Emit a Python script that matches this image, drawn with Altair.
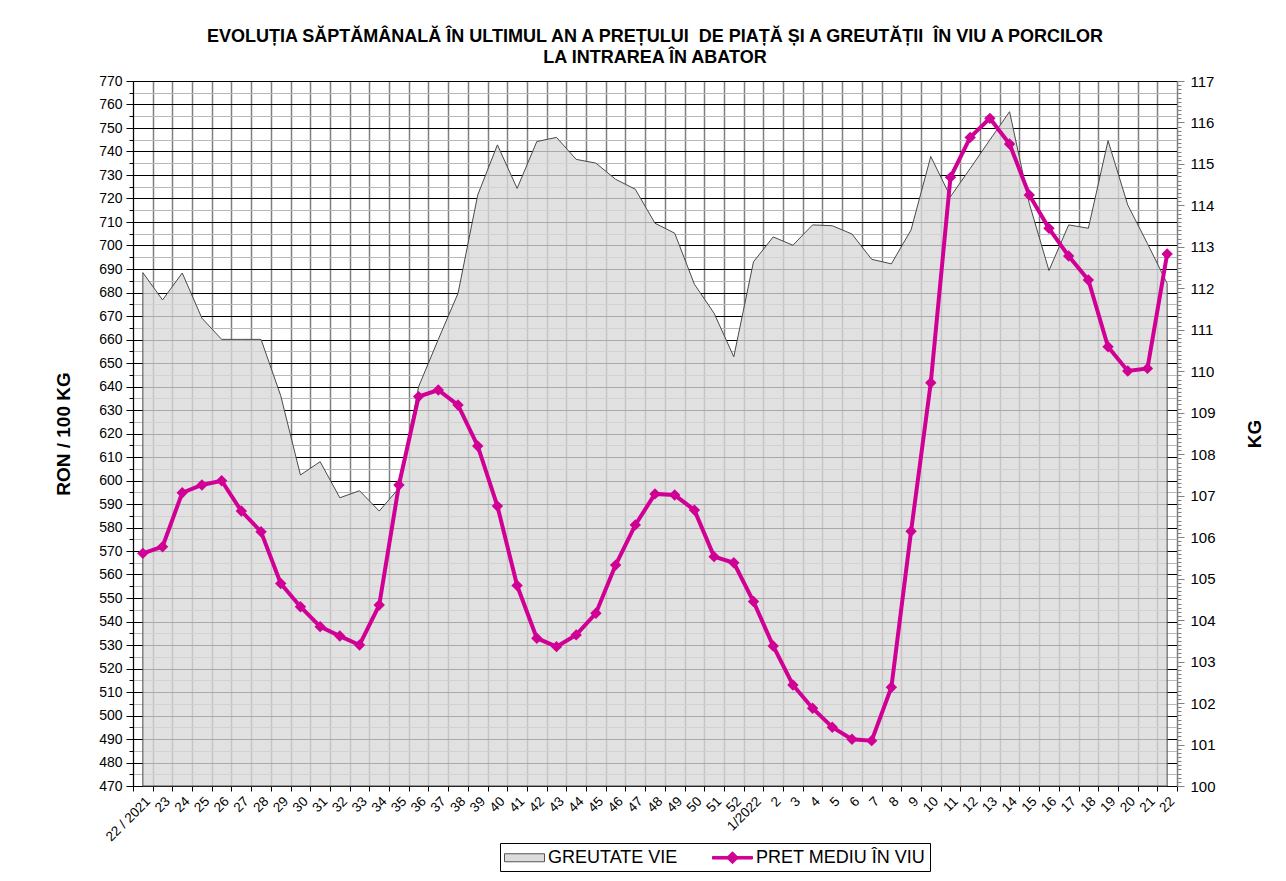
import altair as alt
import pandas as pd

weeks = ["22 / 2021"] + [str(w) for w in range(23, 53)] + ["1/2022"] + [str(w) for w in range(2, 23)]

price = [569.0, 571.8, 594.8, 598.1, 599.9, 587.0, 578.2, 556.2, 546.3, 537.8,
         533.8, 530.0, 547.0, 598.1, 635.7, 638.5, 632.1, 614.7, 589.1, 555.3,
         532.9, 529.3, 534.3, 543.5, 564.0, 581.1, 594.3, 593.8, 587.4, 567.6,
         565.0, 548.5, 529.6, 513.0, 503.1, 495.0, 489.9, 489.3, 512.0, 578.4,
         641.6, 729.0, 746.0, 754.1, 743.2, 721.5, 707.3, 695.5, 685.3, 656.9,
         646.6, 647.7, 696.4]

weight = [112.38, 111.72, 112.37, 111.28, 110.77, 110.77, 110.77, 109.41, 107.50, 107.82,
          106.95, 107.12, 106.63, 107.18, 109.63, 110.77, 111.88, 114.25, 115.46, 114.41,
          115.54, 115.64, 115.11, 115.02, 114.63, 114.39, 113.57, 113.33, 112.10, 111.40,
          110.35, 112.64, 113.24, 113.04, 113.53, 113.51, 113.31, 112.70, 112.59, 113.41,
          115.18, 114.21, 114.89, 115.58, 116.26, 114.05, 112.43, 113.53, 113.45, 115.56,
          114.01, 113.08, 112.12]

series = ["GREUTATE VIE", "PRET MEDIU ÎN VIU"]
title_lines = ["EVOLUȚIA SĂPTĂMÂNALĂ ÎN ULTIMUL AN A PREȚULUI \u00a0DE PIAȚĂ ȘI A GREUTĂȚII \u00a0ÎN VIU A PORCILOR",
               "LA INTRAREA ÎN ABATOR"]

PINK = "#d10094"
FONT = "Liberation Sans"

df = pd.DataFrame({"week": weeks, "price": price, "kg": weight})
leg_df = pd.DataFrame({"series": series})

left_ticks = list(range(470, 775, 5))
right_ticks = [round(100 + i * 0.1, 1) for i in range(171)]

x_enc = alt.X(
    "week:N", sort=weeks,
    scale=alt.Scale(type="band", paddingInner=0, paddingOuter=0),
    axis=alt.Axis(title=None, labelAngle=-45, labelFont=FONT, labelFontSize=13.5,
                  labelColor="black", tickBand="extent", grid=True,
                  gridColor="#808080", gridWidth=1.5, tickColor="black",
                  tickSize=5, domainColor="black", labelPadding=3),
)

area = alt.Chart(df).mark_area(
    fill="#d9d9d9", fillOpacity=0.78, stroke="#4a4a4a", strokeWidth=1
).encode(
    x=x_enc,
    y=alt.Y("kg:Q", scale=alt.Scale(domain=[100, 117], zero=False, nice=False),
            axis=alt.Axis(orient="right", title="KG", titleAngle=270, titleBaseline="top",
                          titleFont=FONT, titleFontSize=19, titleFontWeight="bold",
                          titleColor="black", titlePadding=30,
                          values=right_ticks, grid=False,
                          labelExpr="abs(datum.value - round(datum.value)) < 0.01 ? format(datum.value, 'd') : ''",
                          labelOverlap=False, labelFont=FONT, labelFontSize=15,
                          labelColor="black", labelPadding=6,
                          tickColor="#808080", domainColor="#808080",
                          tickSize={"condition": {"test": "abs(datum.value - round(datum.value)) < 0.01", "value": 7}, "value": 4})),
    y2=alt.datum(100),
)

line = alt.Chart(df).mark_line(
    color=PINK, strokeWidth=4,
    point=alt.OverlayMarkDef(shape="diamond", filled=True, size=130, color=PINK),
).encode(
    x=x_enc,
    y=alt.Y("price:Q", scale=alt.Scale(domain=[470, 770], zero=False, nice=False),
            axis=alt.Axis(orient="left", title="RON / 100 KG", titleFont=FONT,
                          titleFontSize=19, titleFontWeight="bold", titleColor="black",
                          titlePadding=25, values=left_ticks,
                          labelExpr="datum.value % 10 === 0 ? datum.label : ''",
                          labelOverlap=False, labelFont=FONT, labelFontSize=14,
                          labelColor="black", labelPadding=4,
                          grid=True,
                          gridColor={"condition": {"test": "datum.value % 10 === 0", "value": "#000000"}, "value": "#b8b8b8"},
                          gridWidth=1, tickColor="black", domainColor="black",
                          tickSize={"condition": {"test": "datum.value % 10 === 0", "value": 7}, "value": 4})),
)

rect_path = "M-1,-0.4L3,-0.4L3,0.4L-1,0.4Z"
line_path = "M-1,-0.13L3,-0.13L3,0.13L-1,0.13ZM0.4,0L1,-0.6L1.6,0L1,0.6Z"

def make_legend():
    return alt.Legend(title=None, orient="none", legendX=367, legendY=762,
                      direction="horizontal", columns=2,
                      strokeColor="black", padding=4, columnPadding=32,
                      symbolSize=400, symbolOpacity=1, symbolStrokeWidth=1,
                      labelFont=FONT, labelFontSize=18, labelColor="black",
                      labelLimit=400, labelOffset=23, fillColor="white")

legend_layer = alt.Chart(leg_df).mark_point(filled=True).encode(
    fill=alt.Fill("series:N", scale=alt.Scale(domain=series, range=["#dcdcdc", PINK]),
                  legend=make_legend()),
    stroke=alt.Stroke("series:N", scale=alt.Scale(domain=series, range=["#555555", PINK]),
                      legend=make_legend()),
    shape=alt.Shape("series:N", scale=alt.Scale(domain=series, range=[rect_path, line_path]),
                    legend=make_legend()),
    opacity=alt.value(0),
)

chart = alt.layer(area, line, legend_layer).resolve_scale(y="independent").properties(
    width=1044, height=705,
    autosize=alt.AutoSizeParams(type="none"),
    padding={"left": 125, "top": 73, "right": 95, "bottom": 87},
    title=alt.TitleParams(text=title_lines, font=FONT, fontSize=18, fontWeight="bold",
                          color="black", anchor="middle", offset=7, lineHeight=21),
).configure_view(stroke=None).configure(background="white")

chart.save("out.html", embed_options={"renderer": "svg", "actions": False})
